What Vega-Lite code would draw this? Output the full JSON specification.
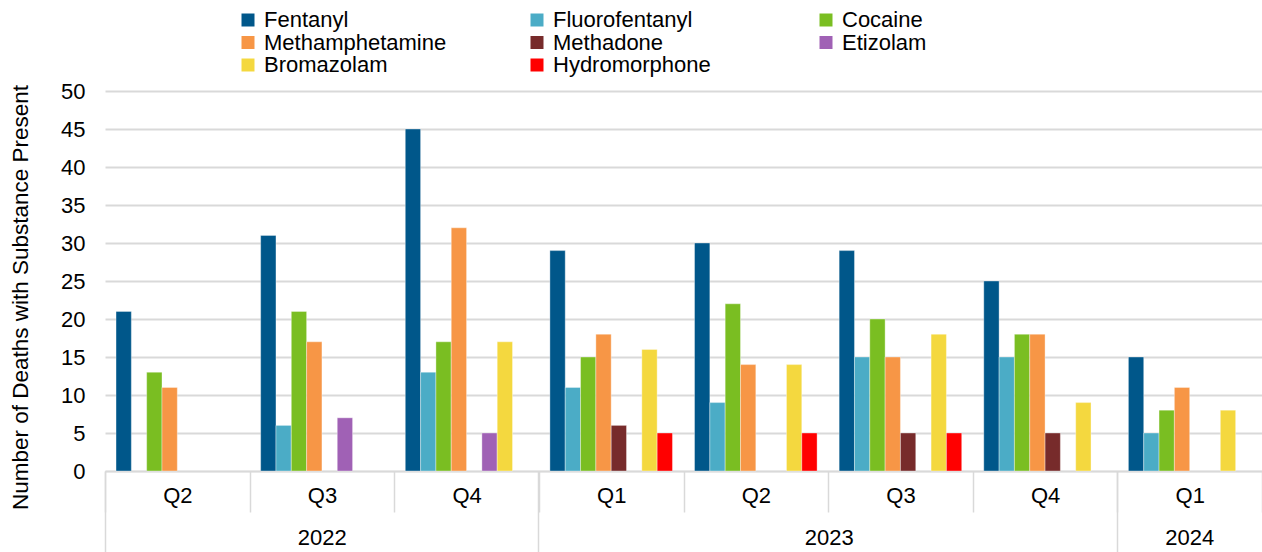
{
  "$schema": "https://vega.github.io/schema/vega-lite/v6.json",
  "autosize": {"type": "none"},
  "padding": {"left": 105, "top": 91, "right": 0, "bottom": 81},
  "width": 1157,
  "height": 380,
  "background": "white",
  "config": {
    "view": {"stroke": null},
    "font": "Liberation Sans",
    "axis": {"labelFont": "Liberation Sans", "titleFont": "Liberation Sans"}
  },
  "datasets": {
    "deaths": [
      {"period": "Q2 2022", "substance": "Fentanyl", "count": 21},
      {"period": "Q2 2022", "substance": "Cocaine", "count": 13},
      {"period": "Q2 2022", "substance": "Methamphetamine", "count": 11},
      {"period": "Q3 2022", "substance": "Fentanyl", "count": 31},
      {"period": "Q3 2022", "substance": "Fluorofentanyl", "count": 6},
      {"period": "Q3 2022", "substance": "Cocaine", "count": 21},
      {"period": "Q3 2022", "substance": "Methamphetamine", "count": 17},
      {"period": "Q3 2022", "substance": "Etizolam", "count": 7},
      {"period": "Q4 2022", "substance": "Fentanyl", "count": 45},
      {"period": "Q4 2022", "substance": "Fluorofentanyl", "count": 13},
      {"period": "Q4 2022", "substance": "Cocaine", "count": 17},
      {"period": "Q4 2022", "substance": "Methamphetamine", "count": 32},
      {"period": "Q4 2022", "substance": "Etizolam", "count": 5},
      {"period": "Q4 2022", "substance": "Bromazolam", "count": 17},
      {"period": "Q1 2023", "substance": "Fentanyl", "count": 29},
      {"period": "Q1 2023", "substance": "Fluorofentanyl", "count": 11},
      {"period": "Q1 2023", "substance": "Cocaine", "count": 15},
      {"period": "Q1 2023", "substance": "Methamphetamine", "count": 18},
      {"period": "Q1 2023", "substance": "Methadone", "count": 6},
      {"period": "Q1 2023", "substance": "Bromazolam", "count": 16},
      {"period": "Q1 2023", "substance": "Hydromorphone", "count": 5},
      {"period": "Q2 2023", "substance": "Fentanyl", "count": 30},
      {"period": "Q2 2023", "substance": "Fluorofentanyl", "count": 9},
      {"period": "Q2 2023", "substance": "Cocaine", "count": 22},
      {"period": "Q2 2023", "substance": "Methamphetamine", "count": 14},
      {"period": "Q2 2023", "substance": "Bromazolam", "count": 14},
      {"period": "Q2 2023", "substance": "Hydromorphone", "count": 5},
      {"period": "Q3 2023", "substance": "Fentanyl", "count": 29},
      {"period": "Q3 2023", "substance": "Fluorofentanyl", "count": 15},
      {"period": "Q3 2023", "substance": "Cocaine", "count": 20},
      {"period": "Q3 2023", "substance": "Methamphetamine", "count": 15},
      {"period": "Q3 2023", "substance": "Methadone", "count": 5},
      {"period": "Q3 2023", "substance": "Bromazolam", "count": 18},
      {"period": "Q3 2023", "substance": "Hydromorphone", "count": 5},
      {"period": "Q4 2023", "substance": "Fentanyl", "count": 25},
      {"period": "Q4 2023", "substance": "Fluorofentanyl", "count": 15},
      {"period": "Q4 2023", "substance": "Cocaine", "count": 18},
      {"period": "Q4 2023", "substance": "Methamphetamine", "count": 18},
      {"period": "Q4 2023", "substance": "Methadone", "count": 5},
      {"period": "Q4 2023", "substance": "Bromazolam", "count": 9},
      {"period": "Q1 2024", "substance": "Fentanyl", "count": 15},
      {"period": "Q1 2024", "substance": "Fluorofentanyl", "count": 5},
      {"period": "Q1 2024", "substance": "Cocaine", "count": 8},
      {"period": "Q1 2024", "substance": "Methamphetamine", "count": 11},
      {"period": "Q1 2024", "substance": "Bromazolam", "count": 8}
    ],
    "years": [
      {"period": "Q2 2022", "year": "2022"},
      {"period": "Q1 2023", "year": "2023"},
      {"period": "Q1 2024", "year": "2024"}
    ]
  },
  "layer": [
    {
      "data": {"name": "deaths"},
      "mark": {"type": "bar", "stroke": "white", "strokeWidth": 0.6, "strokeOpacity": 0.6},
      "encoding": {
        "x": {
          "field": "period",
          "type": "nominal",
          "scale": {
            "domain": ["Q2 2022", "Q3 2022", "Q4 2022", "Q1 2023", "Q2 2023", "Q3 2023", "Q4 2023", "Q1 2024"],
            "paddingInner": 0,
            "paddingOuter": 0
          },
          "axis": {
            "title": null,
            "orient": "bottom",
            "labelAngle": 0,
            "labelExpr": "isString(datum.value) && !datum.extra ? split(datum.value, ' ')[0] : ''",
            "labelFontSize": 22,
            "labelColor": "#000000",
            "labelPadding": -27,
            "labelOverlap": false,
            "tickBand": "extent",
            "tickSize": 41,
            "tickColor": "#d9d9d9",
            "tickWidth": 1.5,
            "domainColor": "#d9d9d9",
            "domainWidth": 1.5,
            "grid": false
          }
        },
        "xOffset": {
          "field": "substance",
          "type": "nominal",
          "scale": {
            "domain": ["Fentanyl", "Fluorofentanyl", "Cocaine", "Methamphetamine", "Methadone", "Etizolam", "Bromazolam", "Hydromorphone"],
            "paddingInner": 0,
            "paddingOuter": 0.72
          }
        },
        "y": {
          "field": "count",
          "type": "quantitative",
          "scale": {"domain": [0, 50], "nice": false},
          "axis": {
            "title": "Number of Deaths with Substance Present",
            "titleFontSize": 22.5,
            "titleFontWeight": "normal",
            "titleColor": "#000000",
            "titleAngle": 270,
            "titleX": -85,
            "titleY": 206,
            "titleAlign": "center",
            "titleBaseline": "middle",
            "values": [0, 5, 10, 15, 20, 25, 30, 35, 40, 45, 50],
            "tickCount": 20,
            "labelFontSize": 22,
            "labelColor": "#000000",
            "labelPadding": 20,
            "labelOverlap": false,
            "labelFlush": false,
            "ticks": false,
            "domain": false,
            "grid": true,
            "gridColor": "#d9d9d9",
            "gridWidth": 2
          }
        },
        "color": {
          "field": "substance",
          "type": "nominal",
          "scale": {
            "domain": ["Fentanyl", "Fluorofentanyl", "Cocaine", "Methamphetamine", "Methadone", "Etizolam", "Bromazolam", "Hydromorphone"],
            "range": ["#00578a", "#4bacc6", "#7abe22", "#f79646", "#772b2b", "#a061b5", "#f4d83f", "#ff0000"]
          },
          "legend": {
            "title": null,
            "orient": "none",
            "legendX": 132,
            "legendY": -82,
            "direction": "horizontal",
            "columns": 3,
            "gridAlign": "all",
            "columnPadding": 79,
            "rowPadding": 0.5,
            "padding": 0,
            "symbolType": "square",
            "symbolSize": 169,
            "symbolStrokeWidth": 0,
            "symbolOpacity": 1,
            "labelFontSize": 22,
            "labelFont": "Liberation Sans",
            "labelColor": "#000000",
            "labelOffset": 5,
            "labelLimit": 300
          }
        }
      }
    },
    {
      "data": {"name": "years"},
      "mark": {"type": "tick", "opacity": 0},
      "encoding": {
        "x": {
          "field": "period",
          "type": "nominal",
          "axis": {
            "title": null,
            "orient": "bottom",
            "values": ["Q2 2022", "Q1 2023", "Q1 2024"],
            "bandPosition": 0,
            "tickExtra": false,
            "labelAngle": 0,
            "labelExpr": "split(datum.value, ' ')[1]",
            "labelAlign": "center",
            "labelFontSize": 22,
            "labelColor": "#000000",
            "labelPadding": -25,
            "labelOverlap": false,
            "labelOffset": {
              "condition": [
                {"test": "datum.value === 'Q2 2022'", "value": 145},
                {"test": "datum.value === 'Q1 2023'", "value": 218}
              ],
              "value": 0
            },
            "tickSize": 81,
            "tickColor": "#d9d9d9",
            "tickWidth": 1.5,
            "domain": false,
            "grid": false
          }
        }
      }
    }
  ],
  "resolve": {"axis": {"x": "independent"}}
}
